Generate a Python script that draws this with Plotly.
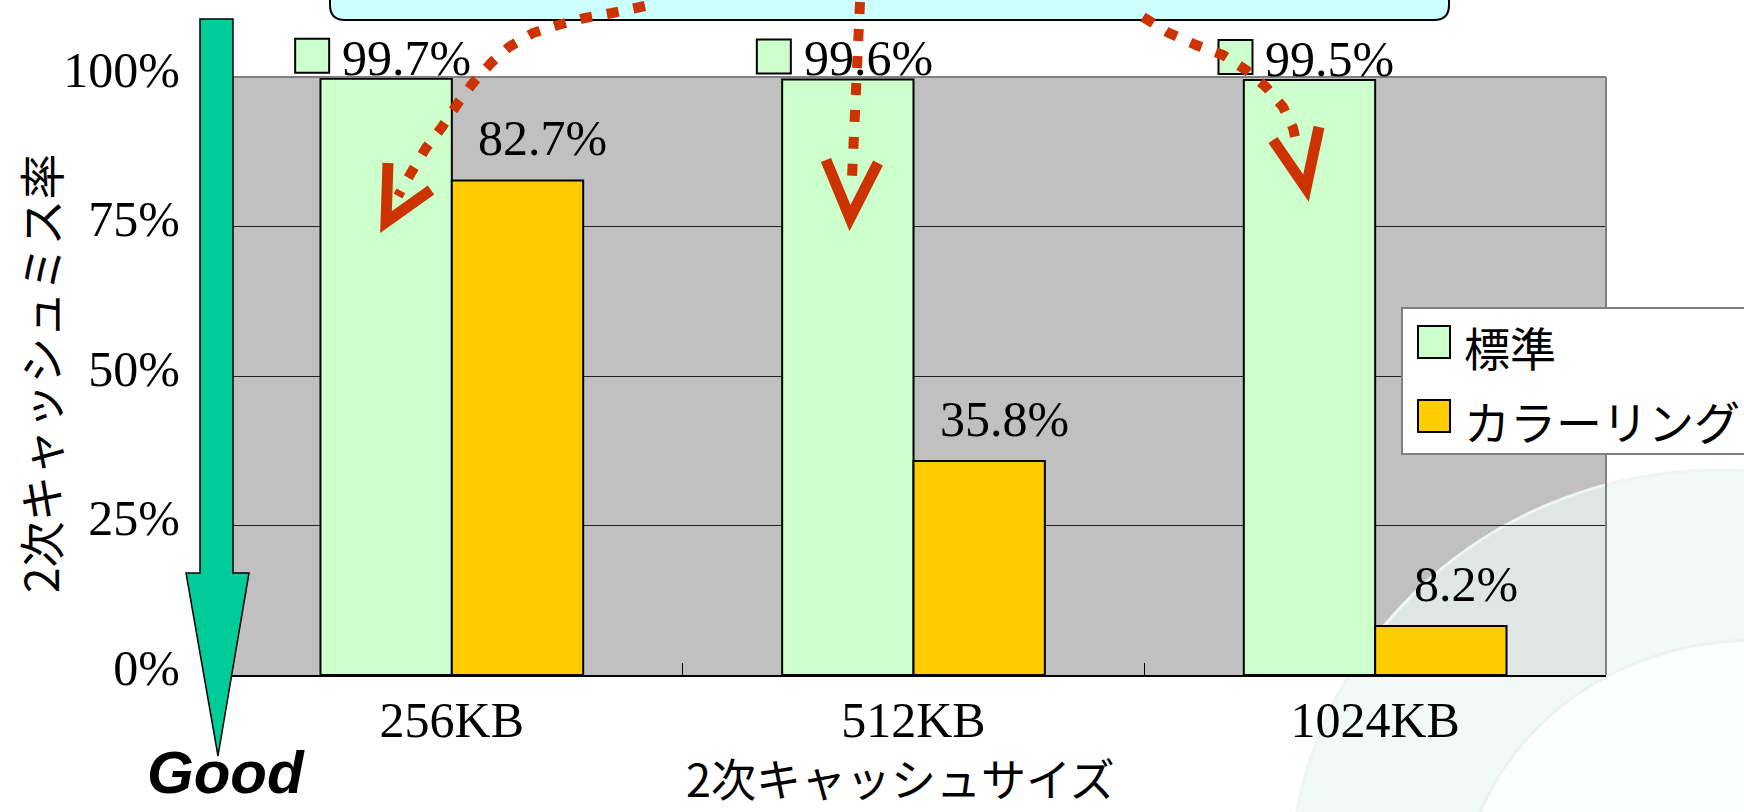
import plotly.graph_objects as go

# ---------------- data ----------------
categories = ["256KB", "512KB", "1024KB"]
standard = [99.7, 99.6, 99.5]
coloring = [82.7, 35.8, 8.2]
series_names = ["標準", "カラーリング"]
y_ticks = [0, 25, 50, 75, 100]
y_tick_labels = ["0%", "25%", "50%", "75%", "100%"]
y_title = "2次キャッシュミス率"
x_title = "2次キャッシュサイズ"
good_label = "Good"

# ---------------- layout geometry ----------------
W, H = 1744, 812
L, R, T, B = 221, 1606, 77, 675
Y_MAX = 100


def px(x):
    return (x - L) / (R - L)


def py(y):
    return (B - y) / (B - T)


def path(points, close=False):
    s = "M " + " L ".join(f"{px(x):.5f},{py(y):.5f}" for x, y in points)
    return s + (" Z" if close else "")


GREEN = "#CCFFCC"
ORANGE = "#FFCC00"
RED = "#CC3300"
SERIF = "Liberation Serif"
CJK = "Noto Sans CJK JP"
BARGAP = 0.431
half = (1 - BARGAP) / 4
n = len(categories)

fig = go.Figure()
fig.add_trace(go.Bar(x=categories, y=standard, name=series_names[0], showlegend=False,
                     marker=dict(color=GREEN, line=dict(color="black", width=2))))
fig.add_trace(go.Bar(x=categories, y=coloring, name=series_names[1], showlegend=False,
                     marker=dict(color=ORANGE, line=dict(color="black", width=2))))

shapes = []
annotations = []

# faint background swirl (slide decoration, hidden behind the plot area)
shapes.append(dict(type="circle", xref="paper", yref="paper", layer="below",
                   x0=px(1290), x1=px(2150), y0=py(1300), y1=py(470),
                   fillcolor="rgba(236,248,243,0.7)", line=dict(color="rgba(240,245,243,1)", width=3)))
shapes.append(dict(type="circle", xref="paper", yref="paper", layer="below",
                   x0=px(1460), x1=px(2050), y0=py(1180), y1=py(640),
                   fillcolor="rgba(255,255,255,0.85)", line=dict(color="rgba(238,242,240,1)", width=3)))

# plot border (top / right)
shapes.append(dict(type="line", xref="paper", yref="paper", x0=0, x1=1, y0=1, y1=1,
                   line=dict(color="#808080", width=2)))
shapes.append(dict(type="line", xref="paper", yref="paper", x0=1, x1=1, y0=0, y1=1,
                   line=dict(color="#808080", width=2)))

# data labels (with legend key in front of the standard-series labels)
for i, v in enumerate(standard):
    xc = i - half
    shapes.append(dict(type="rect", xref="paper", yref="paper", xsizemode="pixel", ysizemode="pixel",
                       xanchor=(xc + 0.5) / n, yanchor=v / Y_MAX, x0=-91, x1=-57, y0=6, y1=40,
                       fillcolor=GREEN, line=dict(color="black", width=2)))
    annotations.append(dict(x=xc, y=v, xref="x", yref="y", text=f"{v:.1f}%", showarrow=False,
                            xanchor="left", yanchor="bottom", xshift=-46, yshift=-9,
                            font=dict(family=SERIF, size=50, color="black")))
for i, v in enumerate(coloring):
    xc = i + half
    annotations.append(dict(x=xc, y=v, xref="x", yref="y", text=f"{v:.1f}%", showarrow=False,
                            xanchor="center", yanchor="bottom", xshift=25, yshift=12,
                            font=dict(family=SERIF, size=50, color="black")))

# green "Good" arrow
shapes.append(dict(type="path", xref="paper", yref="paper",
                   path=path([(200, 19), (233, 19), (233, 573), (249, 573), (218, 756),
                              (186, 573), (200, 573)], close=True),
                   fillcolor="#00CC99", line=dict(color="black", width=1.5)))
annotations.append(dict(x=px(226), y=py(772), xref="paper", yref="paper", text=f"<b><i>{good_label}</i></b>",
                        showarrow=False, xanchor="center", yanchor="middle",
                        font=dict(family="Liberation Sans", size=60, color="black")))

# callout box at top
r = 15
shapes.append(dict(type="path", xref="paper", yref="paper",
                   path=(f"M {px(330)},{py(-40)} L {px(330)},{py(20 - r)} "
                         f"Q {px(330)},{py(20)} {px(330 + r)},{py(20)} "
                         f"L {px(1449 - r)},{py(20)} Q {px(1449)},{py(20)} {px(1449)},{py(20 - r)} "
                         f"L {px(1449)},{py(-40)} Z"),
                   fillcolor="#CCFFFF", line=dict(color="black", width=2)))

# red dotted arrows
dotted = [
    [(645, 6), (612, 13), (585, 18), (558, 25), (533, 33), (509, 47), (491, 63), (473, 83),
     (458, 103), (442, 127), (426, 148), (411, 173), (398, 196)],
    [(860, 2), (852, 178)],
    [(1143, 17), (1169, 33), (1196, 45), (1223, 55), (1246, 70), (1266, 87), (1283, 107),
     (1293, 128), (1298, 150)],
]
heads = [
    [(388, 163), (386, 222), (431, 190)],
    [(826, 160), (850, 218), (878, 163)],
    [(1273, 140), (1306, 188), (1319, 127)],
]
for d in dotted:
    shapes.append(dict(type="path", xref="paper", yref="paper", path=path(d),
                       line=dict(color=RED, width=10, dash="12px,15px")))
for h in heads:
    shapes.append(dict(type="path", xref="paper", yref="paper", path=path(h),
                       line=dict(color=RED, width=11)))

# legend (drawn manually to get the large keys)
shapes.append(dict(type="rect", xref="paper", yref="paper",
                   x0=px(1402), x1=px(1790), y0=py(308), y1=py(454),
                   fillcolor="white", line=dict(color="#808080", width=2)))
legend_rows = [(series_names[0], GREEN, 342), (series_names[1], ORANGE, 416)]
for name, color, yc in legend_rows:
    shapes.append(dict(type="rect", xref="paper", yref="paper",
                       x0=px(1418), x1=px(1450), y0=py(yc - 16), y1=py(yc + 16),
                       fillcolor=color, line=dict(color="black", width=2)))
    annotations.append(dict(x=px(1462), y=py(yc + 4), xref="paper", yref="paper", text=name,
                            showarrow=False, xanchor="left", yanchor="middle",
                            font=dict(family=CJK, size=46, color="black")))

# axis titles
annotations.append(dict(x=px(39), y=py(373), xref="paper", yref="paper", text=y_title,
                        textangle=-90, showarrow=False, xanchor="center", yanchor="middle",
                        font=dict(family=CJK, size=46, color="black")))
annotations.append(dict(x=px(900), y=py(777), xref="paper", yref="paper", text=x_title,
                        showarrow=False, xanchor="center", yanchor="middle",
                        font=dict(family=CJK, size=45, color="black")))

fig.update_layout(
    width=W, height=H,
    margin=dict(l=L, r=W - R, t=T, b=H - B, autoexpand=False),
    paper_bgcolor="white", plot_bgcolor="#C0C0C0",
    barmode="group", bargap=BARGAP, bargroupgap=0,
    shapes=shapes, annotations=annotations,
    showlegend=False,
    xaxis=dict(type="category", showline=True, linecolor="black", linewidth=2,
               ticks="inside", tickson="boundaries", ticklen=12, tickcolor="black",
               tickfont=dict(family=SERIF, size=50, color="black"), ticklabelstandoff=0,
               showgrid=False, zeroline=False, automargin=False),
    yaxis=dict(range=[0, Y_MAX], tickvals=y_ticks, ticktext=y_tick_labels,
               showgrid=True, gridcolor="#222222", gridwidth=1, zeroline=False,
               showline=False, ticks="", ticklabelstandoff=40, ticklabelshift=-8,
               tickfont=dict(family=SERIF, size=50, color="black"), automargin=False),
)

fig.write_html("out.html")
